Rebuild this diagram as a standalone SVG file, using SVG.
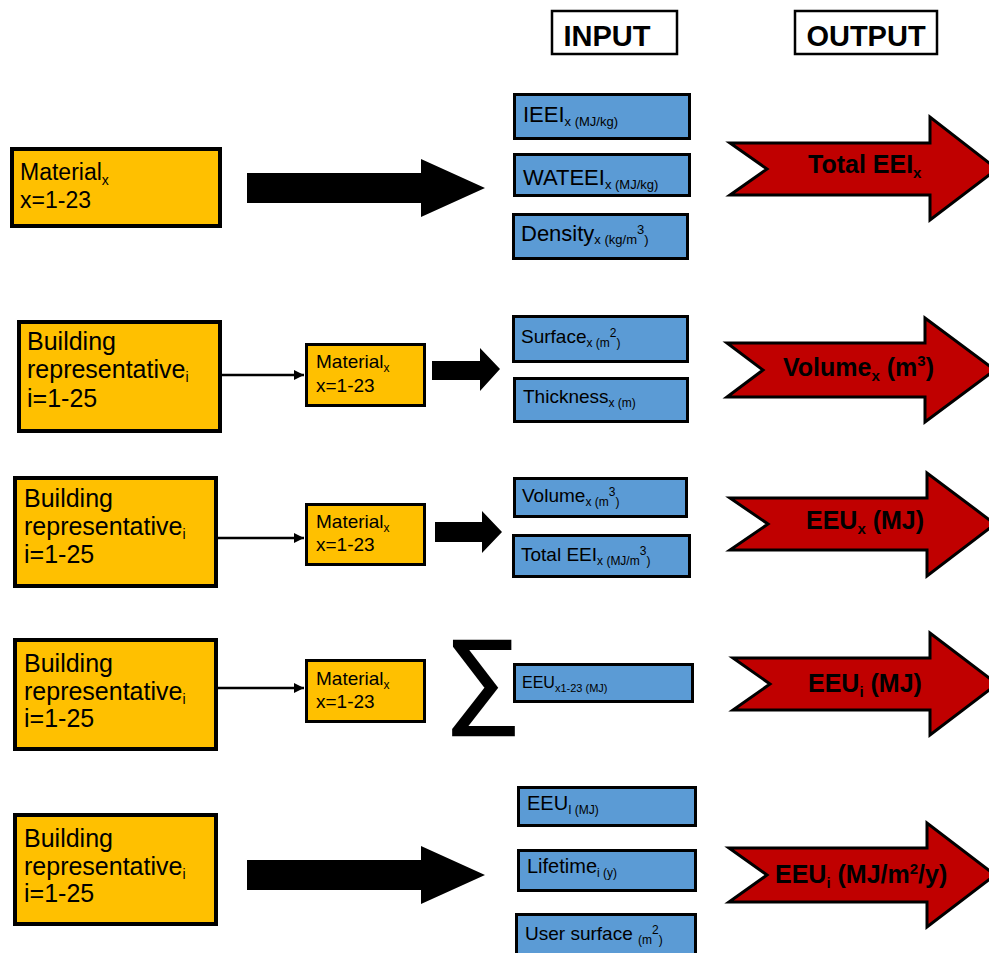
<svg xmlns="http://www.w3.org/2000/svg" width="989" height="953" viewBox="0 0 989 953">
<defs>
<style>
text{font-family:"Liberation Sans",Arial,sans-serif;fill:#000}
.hdr{fill:#fff;stroke:#000;stroke-width:2.5}
.hdrt{font-size:29px;font-weight:bold;text-anchor:middle}
.org{fill:#FFC000;stroke:#000;stroke-width:4}
.orgs{fill:#FFC000;stroke:#000;stroke-width:3}
.blue{fill:#5B9BD5;stroke:#000;stroke-width:3}
.red{fill:#C00000;stroke:#000;stroke-width:3;stroke-linejoin:miter}
.blk{fill:#000}
.big{font-size:23px}
.bld{font-size:25px}
.sm{font-size:19px}
.b1{font-size:22px}
.b2{font-size:19px}
.rt{font-size:25px;font-weight:bold}
.conn{stroke:#000;stroke-width:2.5;fill:none}
</style>
<marker id="ah" viewBox="0 0 10 10" refX="10" refY="5" markerWidth="4" markerHeight="4" orient="auto" markerUnits="strokeWidth">
<path d="M0,0 L10,5 L0,10 z" fill="#000"/>
</marker>
</defs>
<rect width="989" height="953" fill="#fff"/>

<g id="input-header">
<rect class="hdr" x="552" y="11" width="125" height="43"/>
<text class="hdrt" x="607" y="46">INPUT</text>
</g>
<g id="output-header">
<rect class="hdr" x="795" y="11" width="142" height="43"/>
<text class="hdrt" x="866" y="46">OUTPUT</text>
</g>

<!-- Row 1 -->
<g id="material-row1">
<rect class="org" x="12" y="149" width="208" height="77"/>
<text class="big" x="20" y="180">Material<tspan font-size="14" dy="5">x</tspan></text>
<text class="big" x="20" y="208">x=1-23</text>
</g>
<g id="ieei">
<rect class="blue" x="514.5" y="94.5" width="175" height="44"/>
<text class="b1" x="523" y="122">IEEI<tspan font-size="13" dy="4">x (MJ/kg)</tspan></text>
</g>
<g id="wateei">
<rect class="blue" x="514.5" y="154.5" width="175" height="41"/>
<text class="b1" x="523" y="185">WATEEI<tspan font-size="13" dy="4">x (MJ/kg)</tspan></text>
</g>
<g id="density">
<rect class="blue" x="513.5" y="214.5" width="174" height="44"/>
<text class="b1" x="521" y="241">Density<tspan font-size="13" dy="3">x (kg/m</tspan><tspan font-size="13" dy="-10">3</tspan><tspan font-size="13" dy="10">)</tspan></text>
</g>
<g id="out-total-eei">
<polygon class="red" points="730,143 930,143 930,117 997,169 930,220 930,195 730,195 767,169"/>
<text class="rt" x="808" y="173">Total EEI<tspan font-size="15" dy="5">x</tspan></text>
</g>

<!-- Row 2 -->
<g id="building-row2">
<rect class="org" x="19" y="322" width="201" height="109"/>
<text class="bld" x="27" y="350">Building</text>
<text class="bld" x="27" y="378">representative<tspan font-size="14" dy="4">i</tspan></text>
<text class="bld" x="27" y="407">i=1-25</text>
</g>
<g id="material-row2">
<rect class="orgs" x="306.5" y="344.5" width="118" height="61"/>
<text class="sm" x="316" y="368">Material<tspan font-size="12" dy="4">x</tspan></text>
<text class="sm" x="316" y="392">x=1-23</text>
</g>
<g id="surface">
<rect class="blue" x="513.5" y="316.5" width="174" height="45"/>
<text class="b2" x="521" y="343">Surface<tspan font-size="12" dy="4">x (m</tspan><tspan font-size="12" dy="-10">2</tspan><tspan font-size="12" dy="10">)</tspan></text>
</g>
<g id="thickness">
<rect class="blue" x="514.5" y="378.5" width="173" height="43"/>
<text class="b2" x="523" y="403">Thickness<tspan font-size="12" dy="4">x (m)</tspan></text>
</g>
<g id="out-volume">
<polygon class="red" points="727,343 925,343 925,318 995,370 925,422 925,397 727,397 763,370"/>
<text class="rt" x="783" y="376">Volume<tspan font-size="15" dy="5">x</tspan><tspan dy="-5"> (m</tspan><tspan font-size="15" dy="-10">3</tspan><tspan dy="10">)</tspan></text>
</g>

<!-- Row 3 -->
<g id="building-row3">
<rect class="org" x="15" y="478" width="201" height="108"/>
<text class="bld" x="24" y="507">Building</text>
<text class="bld" x="24" y="535">representative<tspan font-size="14" dy="4">i</tspan></text>
<text class="bld" x="24" y="563">i=1-25</text>
</g>
<g id="material-row3">
<rect class="orgs" x="306.5" y="504.5" width="118" height="60"/>
<text class="sm" x="316" y="528">Material<tspan font-size="12" dy="4">x</tspan></text>
<text class="sm" x="316" y="551">x=1-23</text>
</g>
<g id="volume-in">
<rect class="blue" x="514.5" y="478.5" width="172" height="38"/>
<text class="b2" x="522" y="502">Volume<tspan font-size="12" dy="4">x (m</tspan><tspan font-size="12" dy="-10">3</tspan><tspan font-size="12" dy="10">)</tspan></text>
</g>
<g id="total-eei-in">
<rect class="blue" x="513.5" y="535.5" width="176" height="41"/>
<text class="b2" x="521" y="561" font-size="20">Total EEI<tspan font-size="12" dy="4">x (MJ/m</tspan><tspan font-size="12" dy="-10">3</tspan><tspan font-size="12" dy="10">)</tspan></text>
</g>
<g id="out-eeux">
<polygon class="red" points="730,498 927,498 927,473 995,524 927,576 927,550 730,550 768,524"/>
<text class="rt" x="806" y="529">EEU<tspan font-size="15" dy="5">x</tspan><tspan dy="-5"> (MJ)</tspan></text>
</g>

<!-- Row 4 -->
<g id="building-row4">
<rect class="org" x="15" y="640" width="201" height="109"/>
<text class="bld" x="24" y="672">Building</text>
<text class="bld" x="24" y="700">representative<tspan font-size="14" dy="4">i</tspan></text>
<text class="bld" x="24" y="727">i=1-25</text>
</g>
<g id="material-row4">
<rect class="orgs" x="306.5" y="660.5" width="118" height="61"/>
<text class="sm" x="316" y="685">Material<tspan font-size="12" dy="4">x</tspan></text>
<text class="sm" x="316" y="708">x=1-23</text>
</g>
<g id="sum">
<text x="445.5" y="713" font-family="DejaVu Sans, sans-serif" font-size="105" stroke="#000" stroke-width="2.5">∑</text>
</g>
<g id="eeu-x-sum">
<rect class="blue" x="514.5" y="664.5" width="178" height="37"/>
<text x="522" y="688" font-size="16">EEU<tspan font-size="11" dy="4">x1-23 (MJ)</tspan></text>
</g>
<g id="out-eeui">
<polygon class="red" points="733,658 930,658 930,633 997,684 930,735 930,710 733,710 770,684"/>
<text class="rt" x="808" y="692">EEU<tspan font-size="15" dy="5">i</tspan><tspan dy="-5"> (MJ)</tspan></text>
</g>

<!-- Row 5 -->
<g id="building-row5">
<rect class="org" x="15" y="815" width="201" height="109"/>
<text class="bld" x="24" y="847">Building</text>
<text class="bld" x="24" y="875">representative<tspan font-size="14" dy="4">i</tspan></text>
<text class="bld" x="24" y="902">i=1-25</text>
</g>
<g id="eeui-in">
<rect class="blue" x="518.5" y="787.5" width="177" height="38"/>
<text x="527" y="810" font-size="20">EEU<tspan font-size="12" dy="4">I (MJ)</tspan></text>
</g>
<g id="lifetime">
<rect class="blue" x="518.5" y="850.5" width="177" height="40"/>
<text x="527" y="873" font-size="20">Lifetime<tspan font-size="12" dy="4">i (y)</tspan></text>
</g>
<g id="user-surface">
<rect class="blue" x="516.5" y="914.5" width="179" height="45"/>
<text x="525" y="940" font-size="19">User surface <tspan font-size="12" dy="4">(m</tspan><tspan font-size="12" dy="-10">2</tspan><tspan font-size="12" dy="10">)</tspan></text>
</g>
<g id="out-eeui-m2y">
<polygon class="red" points="729,848 927,848 927,823 995,875 927,927 927,902 729,902 767,875"/>
<text class="rt" x="775" y="883">EEU<tspan font-size="15" dy="5">i</tspan><tspan dy="-5"> (MJ/m</tspan><tspan font-size="15" dy="-9">2</tspan><tspan dy="9">/y)</tspan></text>
</g>

<g id="connectors">
<polygon class="blk" points="247,173 421,173 421,159 485,188 421,217 421,203 247,203"/>
<line class="conn" x1="220" y1="375" x2="304" y2="375" marker-end="url(#ah)"/>
<polygon class="blk" points="432,361 480,361 480,348 500,369 480,391 480,380 432,380"/>
<line class="conn" x1="216" y1="538" x2="304" y2="538" marker-end="url(#ah)"/>
<polygon class="blk" points="435,522 482,522 482,511 502,532 482,553 482,542 435,542"/>
<line class="conn" x1="216" y1="688" x2="304" y2="688" marker-end="url(#ah)"/>
<polygon class="blk" points="247,860 421,860 421,846 485,875 421,904 421,890 247,890"/>
</g>
</svg>
